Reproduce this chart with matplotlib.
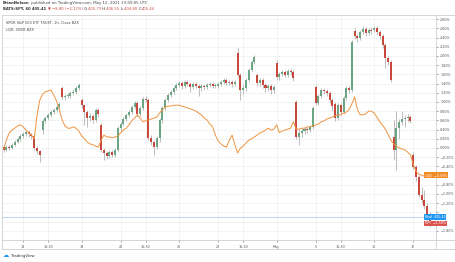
"""
SPY 1h (%) vs LQD comparison, TradingView snapshot, Apr 13 - May 12 2021
"""
import matplotlib
matplotlib.use("Agg")
import matplotlib.pyplot as plt
from matplotlib.lines import Line2D
from matplotlib.patches import Rectangle
import numpy as np

# ===== data (percent change vs. start) =====
# open of the first hourly bar of each session (22 sessions x 7 bars)
spy_day_open = [0.02, 0.26, 0.39, 1.30, 1.04, 0.50, 0.43, 0.74, 0.22, 1.37, 1.35,
                1.35, 2.07, 1.59, 1.85, 1.00, 1.33, 0.96, 2.54, 2.57, 0.24, -0.15]

spy_close = [
    -0.04, 0.02, 0.00, 0.07, 0.13, 0.20, 0.26,
    0.30, 0.35, 0.30, 0.26, 0.00, -0.07, -0.15,
    0.59, 0.65, 0.72, 0.78, 0.83, 0.89, 0.96,
    1.11, 1.13, 1.13, 1.20, 1.22, 1.30, 1.37,
    0.93, 0.78, 0.65, 0.70, 0.61, 0.83, 0.74,
    -0.04, -0.11, -0.17, -0.09, -0.15, -0.04, 0.43,
    0.52, 0.63, 0.72, 0.78, 0.89, 0.98, 0.74,
    0.87, 1.07, 1.04, 0.22, 0.13, 0.02, 0.22,
    0.61, 0.87, 1.04, 1.15, 1.22, 1.30, 1.37,
    1.41, 1.35, 1.43, 1.39, 1.33, 1.39, 1.35,
    1.30, 1.35, 1.33, 1.37, 1.39, 1.35, 1.37,
    1.39, 1.43, 1.48, 1.41, 1.43, 1.39, 1.43,
    1.59, 1.26, 1.30, 1.48, 1.70, 1.87, 1.98,
    1.41, 1.48, 1.37, 1.30, 1.35, 1.26, 1.33,
    1.54, 1.61, 1.65, 1.59, 1.67, 1.65, 1.52,
    0.24, 0.33, 0.37, 0.41, 0.39, 0.46, 0.87,
    0.98, 1.13, 1.26, 1.24, 1.20, 1.04, 0.91,
    0.65, 0.93, 0.78, 1.09, 1.30, 1.26, 2.30,
    2.43, 2.39, 2.52, 2.59, 2.50, 2.57, 2.54,
    2.61, 2.52, 2.43, 2.24, 1.96, 1.87, 1.48,
    -0.04, 0.43, 0.57, 0.63, 0.65, 0.67, 0.59,
    -0.41, -0.63, -1.02, -1.13, -1.26, -1.43, -1.58,
]

spy_high = [
    0.07, 0.07, 0.07, 0.11, 0.17, 0.24, 0.30,
    0.35, 0.39, 0.39, 0.33, 0.30, 0.04, -0.04,
    0.63, 0.70, 0.76, 0.83, 0.87, 0.93, 1.00,
    1.35, 1.17, 1.20, 1.24, 1.28, 1.35, 1.41,
    1.09, 0.96, 0.83, 0.76, 0.74, 0.87, 0.87,
    0.54, 0.00, -0.07, -0.04, -0.04, 0.00, 0.48,
    0.57, 0.67, 0.76, 0.83, 0.93, 1.02, 1.02,
    0.91, 1.11, 1.13, 1.09, 0.28, 0.17, 0.26,
    0.65, 0.91, 1.09, 1.20, 1.26, 1.35, 1.41,
    1.46, 1.46, 1.48, 1.48, 1.43, 1.43, 1.43,
    1.39, 1.39, 1.39, 1.41, 1.43, 1.43, 1.41,
    1.43, 1.48, 1.52, 1.52, 1.48, 1.48, 1.48,
    2.17, 1.63, 1.37, 1.52, 1.74, 1.91, 2.02,
    1.63, 1.52, 1.52, 1.41, 1.39, 1.39, 1.37,
    1.91, 1.65, 1.70, 1.70, 1.72, 1.72, 1.70,
    1.04, 0.41, 0.43, 0.46, 0.46, 0.50, 0.91,
    1.37, 1.17, 1.30, 1.30, 1.28, 1.24, 1.09,
    1.00, 0.98, 0.98, 1.13, 1.35, 1.35, 2.35,
    2.61, 2.48, 2.57, 2.65, 2.63, 2.61, 2.63,
    2.65, 2.65, 2.57, 2.48, 2.28, 2.00, 1.91,
    0.61, 0.80, 0.63, 0.80, 0.72, 0.74, 0.72,
    -0.09, -0.37, -0.59, -0.85, -0.91, -1.20, -1.39,
]

spy_low = [
    -0.09, -0.07, -0.04, -0.02, 0.04, 0.11, 0.15,
    0.22, 0.26, 0.24, 0.20, -0.04, -0.13, -0.30,
    0.30, 0.54, 0.61, 0.67, 0.74, 0.78, 0.80,
    1.07, 1.04, 1.09, 1.09, 1.15, 1.17, 1.26,
    0.87, 0.50, 0.46, 0.59, 0.54, 0.57, 0.67,
    -0.09, -0.26, -0.24, -0.22, -0.20, -0.20, -0.07,
    0.37, 0.48, 0.59, 0.67, 0.74, 0.85, 0.67,
    0.70, 0.83, 1.00, 0.17, 0.07, -0.15, -0.02,
    0.13, 0.54, 0.83, 1.00, 1.11, 1.17, 1.26,
    1.33, 1.28, 1.30, 1.35, 1.22, 1.28, 1.30,
    1.13, 1.24, 1.26, 1.28, 1.33, 1.30, 1.30,
    1.30, 1.35, 1.39, 1.37, 1.37, 1.33, 1.35,
    1.54, 1.04, 1.17, 1.24, 1.43, 1.65, 1.83,
    1.35, 1.35, 1.30, 1.22, 1.24, 1.17, 1.20,
    1.50, 1.48, 1.57, 1.54, 1.54, 1.59, 1.46,
    0.20, 0.07, 0.24, 0.30, 0.33, 0.35, 0.41,
    0.93, 0.93, 1.09, 1.17, 1.13, 0.98, 0.80,
    0.59, 0.61, 0.72, 0.74, 1.04, 1.20, 1.22,
    2.37, 2.30, 2.35, 2.48, 2.43, 2.46, 2.48,
    2.52, 2.46, 2.37, 2.17, 1.74, 1.80, 1.43,
    -0.26, -0.48, 0.20, 0.50, 0.46, 0.57, 0.54,
    -0.46, -0.72, -1.07, -1.20, -1.33, -1.61, -1.72,
]

lqd_close = [
    -0.02, 0.17, 0.33, 0.39, 0.43, 0.48, 0.50,
    0.46, 0.39, 0.33, 0.28, 0.20, 0.72, 1.04,
    1.17, 1.22, 1.24, 1.26, 1.15, 1.02, 0.83,
    0.61, 0.48, 0.43, 0.43, 0.46, 0.43, 0.37,
    0.26, 0.20, 0.13, 0.09, 0.07, 0.04, 0.02,
    0.17, 0.28, 0.24, 0.24, 0.22, 0.24, 0.26,
    0.33, 0.39, 0.43, 0.50, 0.59, 0.65, 0.72,
    0.65, 0.57, 0.59, 0.61, 0.63, 0.65, 0.67,
    0.76, 0.83, 0.89, 0.91, 0.91, 0.93, 0.93,
    0.93, 0.91, 0.89, 0.87, 0.85, 0.83, 0.80,
    0.76, 0.72, 0.65, 0.61, 0.52, 0.46, 0.28,
    0.15, 0.09, 0.04, 0.02, 0.17, 0.28, 0.07,
    -0.11, 0.00, 0.04, 0.11, 0.17, 0.20, 0.24,
    0.28, 0.33, 0.35, 0.39, 0.43, 0.39, 0.41,
    0.50, 0.33, 0.37, 0.39, 0.41, 0.43, 0.57,
    0.41, 0.41, 0.43, 0.43, 0.46, 0.46, 0.48,
    0.50, 0.52, 0.57, 0.59, 0.63, 0.65, 0.67,
    0.70, 0.72, 0.72, 0.76, 0.78, 0.83, 0.96,
    1.11, 0.83, 0.72, 0.72, 0.74, 0.80, 0.80,
    0.76, 0.67, 0.57, 0.50, 0.41, 0.30, 0.17,
    0.09, 0.04, 0.00, -0.02, -0.04, -0.09, -0.15,
    -0.35, -0.50, -0.57, -0.59, -0.61, -0.61, -0.59,
]

# time axis: bar index -> label
time_tick_bars = [7, 16, 28, 42, 51, 63, 77, 86, 98, 112, 121, 133, 147]
time_tick_labels = ['14', '16:30', '19', '21', '16:30', '26', '28', '16:30',
                    'May', '5', '16:30', '10', '12']
pct_ticks = [-1.8, -1.6, -1.4, -1.2, -1.0, -0.8, -0.6, -0.4, -0.2, 0.0, 0.2, 0.4,
             0.6, 0.8, 1.0, 1.2, 1.4, 1.6, 1.8, 2.0, 2.2, 2.4, 2.6, 2.8]
# scale labels covered by the last-value tags
pct_hidden = [-1.6, -1.4, -0.6]

spy_last_pct = -1.58
lqd_last_pct = -0.59
spy_real_price = 405.41
real_line_pct = -1.50

# ===== colours =====
UP = '#6ba583'
DOWN = '#c9483c'
WICK = '#a3a3a3'
LQD_COLOR = '#ef9440'
GRID = '#efefef'
FRAME = '#cfcfcf'
TXT = '#555555'

W, H = 456, 262


def fx(px):
    return px / W


def fy(py):
    return 1 - py / H


def pct_label(v):
    if v in pct_hidden:
        return ''
    return f"{v:.2f}%".replace('-', '\u2212')


def main():
    close = np.array(spy_close)
    opens = []
    for d, o in enumerate(spy_day_open):
        opens.append(o)
        opens.extend(spy_close[7 * d: 7 * d + 6])
    opens = np.array(opens)
    high = np.array(spy_high)
    low = np.array(spy_low)
    x = np.arange(len(close))

    fig = plt.figure(figsize=(W / 100, H / 100), dpi=100)
    fig.patch.set_facecolor('white')
    bg = fig.add_axes([0, 0, 1, 1])
    bg.set_axis_off()
    bg.set_xlim(0, 1)
    bg.set_ylim(0, 1)

    # main chart
    left, right, top, bottom = 2.5, 436, 15, 240
    ax = fig.add_axes([fx(left), fy(bottom), fx(right - left), (bottom - top) / H])
    ax.set_xlim(-0.4, 155.2)
    ax.set_ylim(-2.0, 2.89)

    ax.vlines(x, low, high, color=WICK, lw=0.5, zorder=2)
    up = close >= opens
    colors = np.where(up, UP, DOWN)
    body_lo = np.minimum(opens, close)
    body_h = np.maximum(np.abs(close - opens), 0.012)
    ax.bar(x, body_h, bottom=body_lo, width=0.72, color=colors, linewidth=0, zorder=3)
    ax.plot(x, lqd_close, color=LQD_COLOR, lw=0.7, zorder=4)

    ax.axhline(real_line_pct, color='#9cc8ee', lw=0.5, zorder=1)

    ax.set_xticks(time_tick_bars)
    ax.set_xticklabels(time_tick_labels)
    ax.set_yticks(pct_ticks)
    ax.set_yticklabels([pct_label(v) for v in pct_ticks])
    ax.yaxis.tick_right()
    ax.tick_params(axis='both', labelsize=2.4, colors=TXT, length=1.5, width=0.4, pad=1.5)
    ax.tick_params(axis='x', pad=2.0)
    ax.grid(True, color=GRID, lw=0.5, zorder=0)
    ax.set_axisbelow(True)
    for s in ax.spines.values():
        s.set_color(FRAME)
        s.set_linewidth(0.6)

    # legend lines at top-left of chart
    ax.text(0.008, 0.975, "SPDR S&P 500 ETF TRUST, 1h, Close BZX", transform=ax.transAxes,
            fontsize=2.5, color='#444444', va='top', ha='left')
    ax.text(0.008, 0.945, "LQD, CBOE BZX", transform=ax.transAxes,
            fontsize=2.5, color='#444444', va='top', ha='left')

    # price labels on the scale
    lab_x = (425 - left) / (right - left)
    for val, txt, col in [(lqd_last_pct, "LQD  \u22120.59%", '#f08a24'),
                          (real_line_pct, f"Real  {spy_real_price:.2f}", '#2196f3'),
                          (spy_last_pct - 0.06, "SPY  \u22121.58%", '#d9534f')]:
        ax.text(lab_x, val, txt, transform=ax.get_yaxis_transform(), fontsize=2.3,
                color='white', va='center', ha='left', clip_on=False, zorder=6,
                bbox=dict(boxstyle='square,pad=0.25', fc=col, ec='none'))

    # outer frame: price scale and time scale
    bg.add_patch(Rectangle((fx(left), fy(249)), fx(455 - left), (249 - top) / H,
                           fill=False, ec=FRAME, lw=0.6))
    bg.add_line(Line2D([fx(right), fx(455)], [fy(bottom), fy(bottom)], color=FRAME, lw=0.6))
    bg.add_line(Line2D([fx(right), fx(right)], [fy(bottom), fy(249)], color=FRAME, lw=0.6))

    # header
    t1 = bg.text(fx(3), fy(3), "BrianNelson", fontsize=2.8, fontweight='bold',
                 color='#333333', va='center', ha='left')
    bg.annotate(" published on TradingView.com, May 12, 2021 23:09:05 UTC", xy=(1, 0.5),
                xycoords=t1, fontsize=2.8, color='#444444', va='center', ha='left')
    segs = [("BATS:SPY, 60 405.41 ", '#333333', 'bold'),
            ("\u25bc \u22128.80 (\u22122.12%) ", DOWN, 'normal'),
            ("O:", '#333333', 'normal'), ("405.73 ", DOWN, 'normal'),
            ("H:", '#333333', 'normal'), ("406.55 ", DOWN, 'normal'),
            ("L:", '#333333', 'normal'), ("404.80 ", DOWN, 'normal'),
            ("C:", '#333333', 'normal'), ("405.44", DOWN, 'normal')]
    prev = None
    for txt, col, wt in segs:
        if prev is None:
            prev = bg.text(fx(3), fy(8.5), txt, fontsize=2.7, fontweight=wt, color=col,
                           va='center', ha='left')
        else:
            prev = bg.annotate(txt, xy=(1, 0.5), xycoords=prev, fontsize=2.7,
                               fontweight=wt, color=col, va='center', ha='left')

    # footer logo
    bg.text(fx(3), fy(255.5), "\u2601", fontsize=4.5, color='#2196f3', va='center', ha='left')
    bg.text(fx(11), fy(255.5), "TradingView", fontsize=2.8, color='#333333',
            va='center', ha='left')

    fig.savefig("out.png", dpi=100, facecolor='white')


if __name__ == "__main__":
    main()
